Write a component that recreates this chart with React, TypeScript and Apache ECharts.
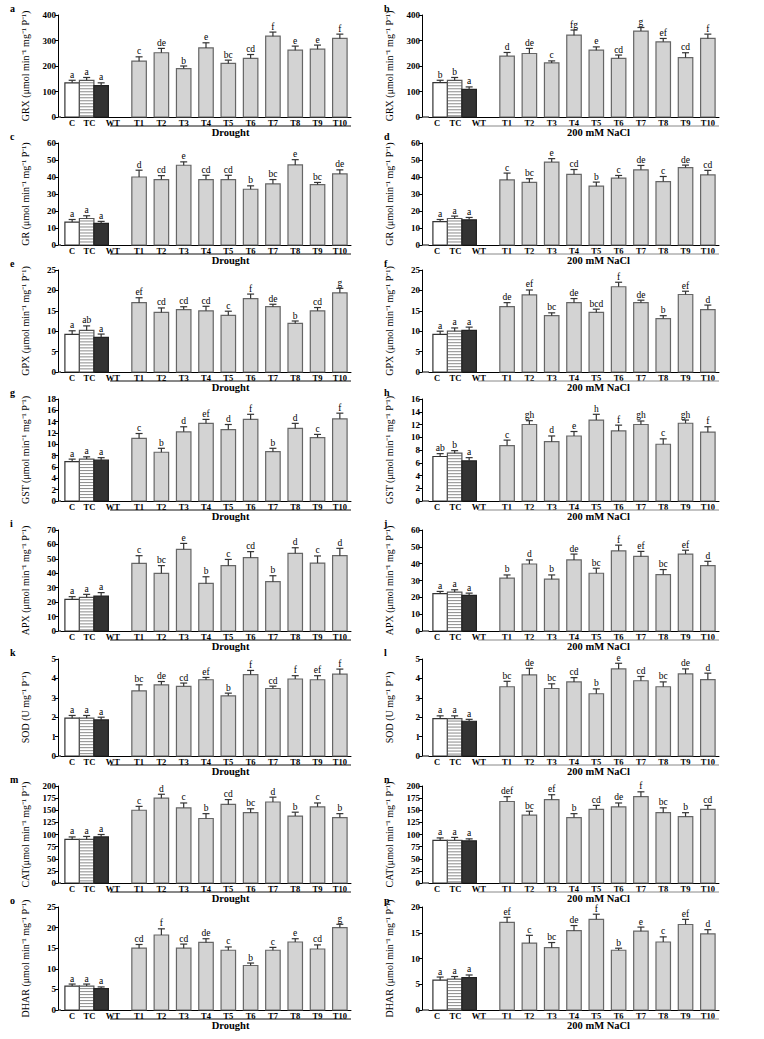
import { useEffect, useRef } from "react";
import * as echarts from "echarts";

const categories = ["C", "TC", "WT", "T1", "T2", "T3", "T4", "T5", "T6", "T7", "T8", "T9", "T10"];
const droughtLabel = "Drought";
const saltLabel = "200 mM NaCl";

// a  GRX – Drought
const grxDroughtMean = [134, 144, 123, 219, 252, 190, 271, 210, 230, 317, 262, 266, 308];
const grxDroughtErr = [10, 11, 11, 17, 17, 10, 20, 13, 15, 16, 16, 16, 17];
const grxDroughtSig = ["a", "a", "a", "c", "de", "b", "e", "bc", "cd", "f", "e", "e", "f"];
// b  GRX – NaCl
const grxSaltMean = [135, 144, 108, 239, 249, 212, 321, 262, 230, 337, 295, 233, 308];
const grxSaltErr = [9, 11, 10, 14, 20, 8, 20, 13, 13, 14, 13, 19, 17];
const grxSaltSig = ["b", "b", "a", "d", "de", "c", "fg", "e", "cd", "g", "ef", "cd", "f"];
// c  GR – Drought
const grDroughtMean = [13.5, 15.6, 12.7, 40, 38.5, 46.9, 38.5, 38.5, 32.8, 36, 47.1, 35.5, 41.8];
const grDroughtErr = [1.5, 1.6, 1.2, 4, 2.3, 2, 2.5, 2.5, 2, 2.5, 3.1, 1.3, 2.4];
const grDroughtSig = ["a", "a", "a", "d", "cd", "e", "cd", "cd", "b", "bc", "e", "bc", "de"];
// d  GR – NaCl
const grSaltMean = [13.7, 15.6, 14.8, 38.3, 36.8, 48.8, 41.6, 34.6, 39.3, 44.2, 37.3, 45.5, 41.2];
const grSaltErr = [1.3, 1.4, 1.4, 4, 2.2, 2, 2.8, 2.4, 1.6, 2.6, 3, 1.5, 2.7];
const grSaltSig = ["a", "a", "a", "c", "bc", "e", "cd", "b", "c", "de", "c", "de", "cd"];
// e  GPX – Drought
const gpxDroughtMean = [9.2, 10.2, 8.5, 17, 14.6, 15.3, 15, 13.9, 18, 16, 11.9, 15, 19.4];
const gpxDroughtErr = [0.9, 1.1, 0.8, 1.2, 1.1, 0.7, 1.1, 1, 1.1, 0.6, 0.6, 0.8, 1.1];
const gpxDroughtSig = ["a", "ab", "a", "ef", "cd", "cd", "cd", "c", "f", "de", "b", "cd", "g"];
// f  GPX – NaCl
const gpxSaltMean = [9.2, 10, 10.2, 16, 18.9, 13.8, 17, 14.6, 20.9, 17, 13.1, 19, 15.3];
const gpxSaltErr = [0.8, 0.8, 0.8, 1, 1.2, 0.7, 1, 0.8, 1.1, 0.6, 0.7, 0.8, 1.1];
const gpxSaltSig = ["a", "a", "a", "de", "ef", "bc", "de", "bcd", "f", "de", "b", "ef", "d"];
// g  GST – Drought
const gstDroughtMean = [6.94, 7.4, 7.2, 11.06, 8.6, 12.2, 13.7, 12.6, 14.4, 8.7, 12.8, 11.2, 14.5];
const gstDroughtErr = [0.45, 0.4, 0.45, 0.85, 0.7, 0.9, 0.7, 0.9, 0.9, 0.6, 0.9, 0.55, 1];
const gstDroughtSig = ["a", "a", "a", "c", "b", "d", "ef", "d", "f", "b", "d", "c", "f"];
// h  GST – NaCl
const gstSaltMean = [6.98, 7.5, 6.3, 8.7, 12, 9.3, 10.2, 12.7, 11, 12, 8.9, 12.2, 10.8];
const gstSaltErr = [0.45, 0.4, 0.5, 0.85, 0.6, 0.9, 0.7, 0.9, 0.9, 0.55, 0.85, 0.5, 0.85];
const gstSaltSig = ["ab", "b", "a", "c", "gh", "d", "e", "h", "f", "gh", "c", "gh", "f"];
// i  APX – Drought
const apxDroughtMean = [21.9, 23.3, 24.2, 46.9, 40, 56.6, 33, 45.3, 50.8, 34.2, 53.8, 47.1, 52.2];
const apxDroughtErr = [1.9, 2.1, 2.4, 5.3, 5.3, 4.1, 4.6, 4.3, 4.2, 4.1, 3.9, 4.9, 5.1];
const apxDroughtSig = ["a", "a", "a", "c", "bc", "e", "b", "c", "cd", "b", "d", "c", "d"];
// j  APX – NaCl
const apxSaltMean = [22.2, 23.1, 21.2, 31.4, 39.8, 30.8, 42.2, 34.3, 47.6, 44.3, 33.5, 45.7, 38.8];
const apxSaltErr = [1.3, 1.4, 1.3, 1.9, 2.4, 2.5, 3.5, 3, 3.4, 3, 3, 2.3, 2.6];
const apxSaltSig = ["a", "a", "a", "b", "d", "b", "de", "bc", "f", "ef", "bc", "ef", "d"];
// k  SOD – Drought
const sodDroughtMean = [1.95, 1.95, 1.86, 3.36, 3.67, 3.59, 3.93, 3.1, 4.19, 3.48, 3.97, 3.93, 4.22];
const sodDroughtErr = [0.14, 0.14, 0.14, 0.31, 0.17, 0.17, 0.12, 0.14, 0.22, 0.12, 0.17, 0.21, 0.26];
const sodDroughtSig = ["a", "a", "a", "bc", "de", "cd", "ef", "b", "f", "cd", "f", "ef", "f"];
// l  SOD – NaCl
const sodSaltMean = [1.93, 1.93, 1.79, 3.57, 4.18, 3.48, 3.82, 3.21, 4.49, 3.88, 3.57, 4.23, 3.94];
const sodSaltErr = [0.14, 0.14, 0.1, 0.28, 0.34, 0.24, 0.22, 0.25, 0.29, 0.22, 0.25, 0.26, 0.33];
const sodSaltSig = ["a", "a", "a", "bc", "de", "bc", "cd", "b", "e", "cd", "bc", "de", "d"];
// m  CAT – Drought
const catDroughtMean = [90, 90, 95, 150, 175, 155, 133, 162, 145, 167, 138, 157, 135];
const catDroughtErr = [5, 6, 5, 8, 8, 10, 10, 10, 8, 10, 8, 8, 8];
const catDroughtSig = ["a", "a", "a", "c", "d", "c", "b", "cd", "bc", "d", "b", "c", "b"];
// n  CAT – NaCl
const catSaltMean = [88, 88, 87, 168, 140, 172, 135, 152, 157, 178, 145, 137, 152];
const catSaltErr = [5, 6, 4, 10, 8, 10, 8, 8, 8, 10, 10, 8, 8];
const catSaltSig = ["a", "a", "a", "def", "bc", "ef", "b", "cd", "de", "f", "bc", "b", "cd"];
// o  DHAR – Drought
const dharDroughtMean = [5.8, 5.8, 5.2, 15, 18.2, 15, 16.4, 14.5, 10.8, 14.5, 16.5, 14.8, 20];
const dharDroughtErr = [0.5, 0.5, 0.4, 0.9, 1.5, 1, 0.9, 0.8, 0.6, 0.7, 0.8, 1, 0.8];
const dharDroughtSig = ["a", "a", "a", "cd", "f", "cd", "de", "c", "b", "c", "e", "cd", "g"];
// p  DHAR – NaCl
const dharSaltMean = [5.8, 6, 6.3, 17, 13, 12.1, 15.4, 17.6, 11.6, 15.3, 13.2, 16.6, 14.8];
const dharSaltErr = [0.6, 0.5, 0.5, 1, 1.5, 1, 1, 1, 0.4, 0.8, 1, 1, 0.8];
const dharSaltSig = ["a", "a", "a", "ef", "c", "bc", "de", "f", "b", "e", "c", "ef", "d"];

const U = "μmol min⁻¹ mg⁻¹ P⁻¹";

type Panel = {
  tag: string;
  title: string;
  mean: number[];
  err: number[];
  sig: string[];
  max: number;
  interval: number;
  treatment: string;
};

const panels: Panel[] = [
  { tag: "a", title: `GRX (${U})`, mean: grxDroughtMean, err: grxDroughtErr, sig: grxDroughtSig, max: 400, interval: 100, treatment: droughtLabel },
  { tag: "b", title: `GRX (${U})`, mean: grxSaltMean, err: grxSaltErr, sig: grxSaltSig, max: 400, interval: 100, treatment: saltLabel },
  { tag: "c", title: `GR (${U})`, mean: grDroughtMean, err: grDroughtErr, sig: grDroughtSig, max: 60, interval: 10, treatment: droughtLabel },
  { tag: "d", title: `GR (${U})`, mean: grSaltMean, err: grSaltErr, sig: grSaltSig, max: 60, interval: 10, treatment: saltLabel },
  { tag: "e", title: `GPX (${U})`, mean: gpxDroughtMean, err: gpxDroughtErr, sig: gpxDroughtSig, max: 25, interval: 5, treatment: droughtLabel },
  { tag: "f", title: `GPX (${U})`, mean: gpxSaltMean, err: gpxSaltErr, sig: gpxSaltSig, max: 25, interval: 5, treatment: saltLabel },
  { tag: "g", title: `GST (${U})`, mean: gstDroughtMean, err: gstDroughtErr, sig: gstDroughtSig, max: 18, interval: 2, treatment: droughtLabel },
  { tag: "h", title: `GST (${U})`, mean: gstSaltMean, err: gstSaltErr, sig: gstSaltSig, max: 16, interval: 2, treatment: saltLabel },
  { tag: "i", title: `APX (${U})`, mean: apxDroughtMean, err: apxDroughtErr, sig: apxDroughtSig, max: 70, interval: 10, treatment: droughtLabel },
  { tag: "j", title: `APX (${U})`, mean: apxSaltMean, err: apxSaltErr, sig: apxSaltSig, max: 60, interval: 10, treatment: saltLabel },
  { tag: "k", title: "SOD (U mg⁻¹ P⁻¹)", mean: sodDroughtMean, err: sodDroughtErr, sig: sodDroughtSig, max: 5, interval: 1, treatment: droughtLabel },
  { tag: "l", title: "SOD (U mg⁻¹ P⁻¹)", mean: sodSaltMean, err: sodSaltErr, sig: sodSaltSig, max: 5, interval: 1, treatment: saltLabel },
  { tag: "m", title: `CAT(${U})`, mean: catDroughtMean, err: catDroughtErr, sig: catDroughtSig, max: 200, interval: 25, treatment: droughtLabel },
  { tag: "n", title: `CAT(${U})`, mean: catSaltMean, err: catSaltErr, sig: catSaltSig, max: 200, interval: 25, treatment: saltLabel },
  { tag: "o", title: `DHAR (${U})`, mean: dharDroughtMean, err: dharDroughtErr, sig: dharDroughtSig, max: 25, interval: 5, treatment: droughtLabel },
  { tag: "p", title: `DHAR (${U})`, mean: dharSaltMean, err: dharSaltErr, sig: dharSaltSig, max: 20, interval: 5, treatment: saltLabel },
];

const ROW_TOP = [15, 143, 270, 399, 530, 659, 786, 907];
const ROW_BOTTOM = [117, 245, 372, 501, 631, 756, 883, 1010];
const COL_LEFT = [61, 429];
const COL_OFFSET = [3, 7];
const GRID_W = 290;
const BAR_W = 14.5;
const SERIF = '"Liberation Serif", "Times New Roman", serif';
// horizontal nudges (px, leftwards) of the C / TC / WT tick labels per column
const LABEL_NUDGE = [
  [0, 5, 4],
  [3, 7, 6],
];

function makeBarRenderer(panel: Panel) {
  return (params: any, api: any) => {
    const i = api.value(0) as number;
    const v = api.value(1) as number;
    const e = api.value(2) as number;
    const band = (api.size([1, 0]) as number[])[0];
    const shift = i < 3 ? -i * (band - BAR_W) : 0;
    const p0 = api.coord([i, 0]);
    const p1 = api.coord([i, v]);
    const p2 = api.coord([i, v + e]);
    const cx = p0[0] + shift;
    const x0 = cx - BAR_W / 2;
    const h = p0[1] - p1[1];
    const children: any[] = [];
    let fill = "#d3d3d3";
    let stroke = "#666666";
    if (i === 0) { fill = "#ffffff"; stroke = "#333333"; }
    if (i === 1) { fill = "#ffffff"; stroke = "#555555"; }
    if (i === 2) { fill = "#333333"; stroke = "#222222"; }
    children.push({ type: "rect", shape: { x: x0, y: p1[1], width: BAR_W, height: h }, style: { fill, stroke: "none" } });
    if (i === 1) {
      for (let y = p1[1] + 2.5; y < p0[1] - 0.5; y += 3) {
        children.push({ type: "line", shape: { x1: x0, y1: y, x2: x0 + BAR_W, y2: y }, style: { stroke: "#8a8a8a", lineWidth: 1 } });
      }
    }
    children.push({ type: "rect", shape: { x: x0, y: p1[1], width: BAR_W, height: h }, style: { fill: "none", stroke, lineWidth: 1.2 } });
    children.push({ type: "line", shape: { x1: cx, y1: p1[1], x2: cx, y2: p2[1] }, style: { stroke: "#333", lineWidth: 1.2 } });
    children.push({ type: "line", shape: { x1: cx - 3.5, y1: p2[1], x2: cx + 3.5, y2: p2[1] }, style: { stroke: "#333", lineWidth: 1.2 } });
    children.push({
      type: "text",
      x: cx,
      y: p2[1] - 0.5,
      style: { text: panel.sig[params.dataIndex], fill: "#000", fontSize: 9.5, fontFamily: SERIF, align: "center", verticalAlign: "bottom" },
    });
    return { type: "group", children };
  };
}

function makeDecoRenderer(panel: Panel, col: number) {
  return (params: any, api: any) => {
    const cs = params.coordSys as any;
    const bottom = cs.y + cs.height;
    const band = (api.size([1, 0]) as number[])[0];
    const a = api.coord([2, 0])[0] - 0.3 * band;
    const b = api.coord([12, 0])[0] + 0.5 * band;
    const ulColor = col === 0 ? "#111" : "#888";
    return {
      type: "group",
      children: [
        { type: "line", shape: { x1: cs.x - COL_OFFSET[col], y1: bottom, x2: cs.x, y2: bottom }, style: { stroke: "#000", lineWidth: 1 } },
        { type: "line", shape: { x1: a, y1: bottom + 9, x2: b, y2: bottom + 9 }, style: { stroke: ulColor, lineWidth: 1 } },
        {
          type: "text",
          x: (a + b) / 2,
          y: bottom + 9.5,
          style: { text: panel.treatment, fill: "#000", fontSize: 10.5, fontWeight: "bold", fontFamily: SERIF, align: "center", verticalAlign: "top" },
        },
      ],
    };
  };
}

function buildOption() {
  const grid: any[] = [];
  const xAxis: any[] = [];
  const yAxis: any[] = [];
  const series: any[] = [];
  const graphic: any[] = [];
  const labelBase = { fontFamily: SERIF, fontWeight: "bold", fontSize: 8.5, color: "#000" };
  panels.forEach((p, k) => {
    const row = Math.floor(k / 2);
    const col = k % 2;
    const top = ROW_TOP[row];
    const bottom = ROW_BOTTOM[row];
    const nudges = LABEL_NUDGE[col];
    grid.push({ left: COL_LEFT[col], top, width: GRID_W, height: bottom - top, containLabel: false });
    xAxis.push({
      type: "category",
      gridIndex: k,
      data: categories,
      axisLine: { show: true, lineStyle: { color: "#000", width: 1 } },
      axisTick: { show: false },
      axisLabel: {
        interval: 0,
        ...labelBase,
        margin: 1,
        formatter: (value: string, idx: number) => `{n${Math.min(idx, 3)}|${value}}`,
        rich: {
          n0: { ...labelBase, padding: [0, nudges[0] * 2, 0, 0] },
          n1: { ...labelBase, padding: [0, nudges[1] * 2, 0, 0] },
          n2: { ...labelBase, padding: [0, nudges[2] * 2, 0, 0] },
          n3: { ...labelBase },
        },
      },
    });
    yAxis.push({
      type: "value",
      gridIndex: k,
      min: 0,
      max: p.max,
      interval: p.interval,
      offset: COL_OFFSET[col],
      axisLine: { show: true, lineStyle: { color: "#000", width: 1 } },
      axisTick: { show: true, length: 3, lineStyle: { color: "#000" } },
      axisLabel: { fontFamily: SERIF, fontWeight: "bold", fontSize: 9, color: "#000", margin: 2 },
      splitLine: { show: false },
      name: p.title,
      nameLocation: "middle",
      nameGap: 28,
      nameTextStyle: { fontFamily: SERIF, fontSize: 10, color: "#000" },
    });
    series.push({
      type: "custom",
      xAxisIndex: k,
      yAxisIndex: k,
      renderItem: makeBarRenderer(p),
      data: categories.map((_, i) => [i, p.mean[i], p.err[i]]),
      clip: false,
      silent: true,
    });
    series.push({
      type: "custom",
      xAxisIndex: k,
      yAxisIndex: k,
      renderItem: makeDecoRenderer(p, col),
      data: [[0, 0]],
      clip: false,
      silent: true,
    });
    graphic.push({
      type: "text",
      x: col === 0 ? 10 : 384,
      y: top - 12,
      style: { text: p.tag, fill: "#000", fontSize: 10, fontWeight: "bold", fontFamily: SERIF },
    });
  });
  return { animation: false, backgroundColor: "#fff", grid, xAxis, yAxis, series, graphic };
}

export default function App() {
  const ref = useRef<HTMLDivElement>(null);
  useEffect(() => {
    if (!ref.current) return;
    const chart = echarts.init(ref.current, undefined, { renderer: "svg" });
    chart.setOption(buildOption() as any);
    return () => chart.dispose();
  }, []);
  return <div ref={ref} style={{ position: "absolute", left: 0, top: 0, width: 764, height: 1039, background: "#fff" }} />;
}
